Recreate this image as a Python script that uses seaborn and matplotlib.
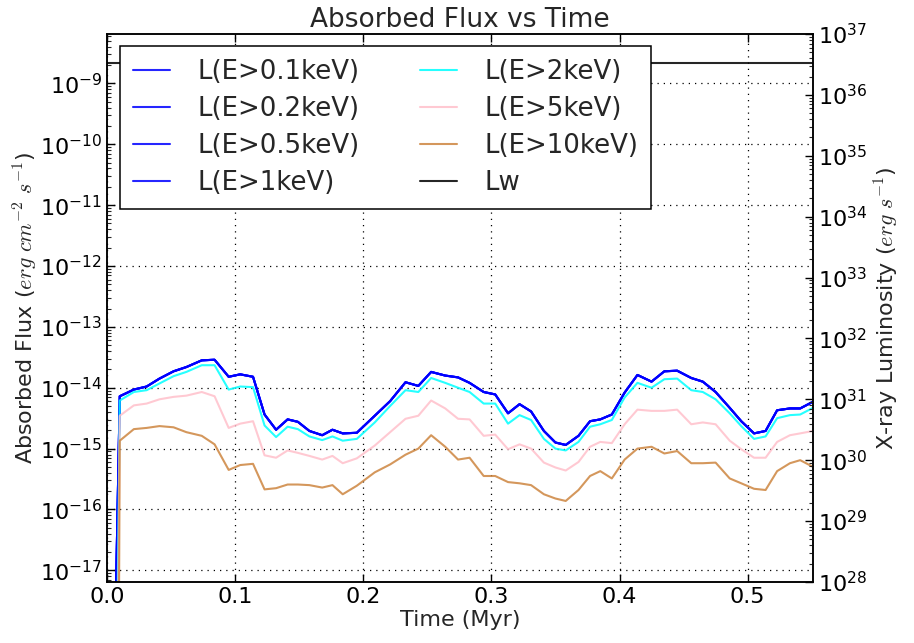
import numpy as np
import pandas as pd
import matplotlib
matplotlib.use("Agg")
import matplotlib.pyplot as plt
from matplotlib.ticker import LogLocator, NullFormatter
import seaborn as sns

# ---- data (flux values as log10) ----
time_myr = [0.0, 0.010, 0.021, 0.031, 0.041, 0.052, 0.062, 0.074, 0.084, 0.095,
            0.104, 0.114, 0.123, 0.132, 0.141, 0.149, 0.158, 0.168, 0.176, 0.184,
            0.195, 0.209, 0.221, 0.233, 0.243, 0.253, 0.264, 0.274, 0.283, 0.294,
            0.303, 0.313, 0.322, 0.331, 0.341, 0.350, 0.358, 0.368, 0.377, 0.385,
            0.394, 0.404, 0.414, 0.425, 0.435, 0.445, 0.456, 0.465, 0.475, 0.486,
            0.495, 0.505, 0.514, 0.523, 0.533, 0.541, 0.551]

log_soft = [-25.0, -14.14, -14.03, -13.98, -13.85, -13.73, -13.66, -13.55, -13.54, -13.82,
            -13.78, -13.82, -14.44, -14.69, -14.52, -14.56, -14.71, -14.78, -14.69, -14.75,
            -14.74, -14.46, -14.22, -13.91, -13.97, -13.74, -13.80, -13.83, -13.92, -14.07,
            -14.11, -14.42, -14.27, -14.39, -14.71, -14.90, -14.94, -14.79, -14.55, -14.52,
            -14.44, -14.08, -13.79, -13.90, -13.73, -13.72, -13.84, -13.90, -14.07, -14.33,
            -14.55, -14.75, -14.71, -14.37, -14.34, -14.34, -14.23]

log_2kev = [-34.0, -14.21, -14.07, -14.04, -13.93, -13.81, -13.74, -13.63, -13.63, -14.03,
            -13.98, -13.99, -14.62, -14.81, -14.64, -14.68, -14.80, -14.86, -14.80, -14.87,
            -14.84, -14.57, -14.30, -14.04, -14.07, -13.84, -13.92, -14.00, -14.07, -14.26,
            -14.26, -14.59, -14.45, -14.53, -14.84, -15.00, -15.03, -14.89, -14.64, -14.60,
            -14.53, -14.16, -13.92, -14.00, -13.86, -13.85, -14.04, -14.07, -14.19, -14.42,
            -14.63, -14.84, -14.80, -14.50, -14.45, -14.44, -14.33]

log_5kev = [-40.0, -14.46, -14.29, -14.26, -14.19, -14.15, -14.13, -14.07, -14.14, -14.66,
            -14.59, -14.55, -15.11, -15.15, -15.03, -15.07, -15.12, -15.18, -15.12, -15.24,
            -15.16, -14.95, -14.73, -14.51, -14.46, -14.21, -14.34, -14.51, -14.52, -14.79,
            -14.77, -15.01, -14.93, -15.00, -15.23, -15.31, -15.36, -15.22, -14.97, -14.89,
            -14.91, -14.60, -14.36, -14.38, -14.38, -14.36, -14.60, -14.57, -14.60, -14.87,
            -15.01, -15.15, -15.15, -14.89, -14.78, -14.75, -14.71]

log_10kev = [-60.0, -14.87, -14.68, -14.66, -14.63, -14.65, -14.73, -14.79, -14.93, -15.35,
             -15.27, -15.25, -15.67, -15.65, -15.59, -15.59, -15.60, -15.64, -15.60, -15.75,
             -15.61, -15.39, -15.26, -15.10, -15.00, -14.78, -14.97, -15.18, -15.15, -15.45,
             -15.45, -15.55, -15.57, -15.60, -15.75, -15.82, -15.86, -15.68, -15.45, -15.37,
             -15.49, -15.18, -15.00, -14.97, -15.08, -15.04, -15.24, -15.24, -15.23, -15.49,
             -15.57, -15.66, -15.68, -15.37, -15.24, -15.19, -15.30]

lw_flux = 2.2e-9  # constant wind luminosity level (in flux units)

labels = ["L(E>0.1keV)", "L(E>0.2keV)", "L(E>0.5keV)", "L(E>1keV)",
          "L(E>2keV)", "L(E>5keV)", "L(E>10keV)", "Lw"]
colors = ["blue", "blue", "blue", "blue", "cyan", "pink", "peru", "black"]
series_logs = [log_soft, log_soft, log_soft, log_soft, log_2kev, log_5kev, log_10kev, None]

lum_factor_log = 45.19  # log10(4 pi d^2) linking the two axes
right_lim = (1e28, 1e37)

# ---- style ----
sns.set_theme(style="white")
plt.rcParams["font.family"] = ["DejaVu Sans"]
plt.rcParams["mathtext.fontset"] = "cm"
plt.rcParams["axes.edgecolor"] = "black"
plt.rcParams["axes.linewidth"] = 1.1

fig = plt.figure(figsize=(9.14, 6.43), dpi=100)
ax = fig.add_axes([0.117, 0.095, 0.7725, 0.852])

t = np.array(time_myr)
for lab, col, logs in zip(labels, colors, series_logs):
    if logs is None:
        y = np.full(len(t), lw_flux)
    else:
        y = 10.0 ** np.array(logs)
    df = pd.DataFrame({"t": t, "f": y})
    sns.lineplot(data=df, x="t", y="f", ax=ax, color=col, alpha=0.85,
                 linewidth=1.5, label=lab, estimator=None, sort=False)

ax.set_yscale("log")
ax.set_xlim(0.0, 0.551)
ax.set_ylim(right_lim[0] / 10 ** lum_factor_log, right_lim[1] / 10 ** lum_factor_log)
ax.set_xticks([0.0, 0.1, 0.2, 0.3, 0.4, 0.5])
ax.set_xticklabels(["0.0", "0.1", "0.2", "0.3", "0.4", "0.5"])
ax.yaxis.set_major_locator(LogLocator(base=10, numticks=30))
ax.yaxis.set_minor_locator(LogLocator(base=10, subs=np.arange(2, 10), numticks=30))
ax.yaxis.set_minor_formatter(NullFormatter())

ax.grid(True, which="major", color="black", linestyle=(0, (1, 4)), linewidth=0.9)
ax.tick_params(axis="both", which="major", direction="in", length=6, width=1,
               labelsize=16, top=True, bottom=True, left=True, right=False, colors="black")
ax.tick_params(axis="y", which="minor", direction="in", length=3, width=0.8,
               left=True, right=False)
ax.tick_params(axis="x", which="minor", bottom=False, top=False)
for s in ax.spines.values():
    s.set_color("black")

ax.set_title("Absorbed Flux vs Time", fontsize=19, pad=5)
ax.set_xlabel("Time (Myr)", fontsize=16, labelpad=2)
ax.set_ylabel(r"Absorbed Flux ($erg\ cm^{-2}\ s^{-1}$)", fontsize=16, labelpad=0)

ax2 = ax.twinx()
ax2.set_yscale("log")
ax2.set_ylim(*right_lim)
ax2.yaxis.set_major_locator(LogLocator(base=10, numticks=30))
ax2.yaxis.set_minor_locator(LogLocator(base=10, subs=np.arange(2, 10), numticks=30))
ax2.yaxis.set_minor_formatter(NullFormatter())
ax2.tick_params(axis="y", which="major", direction="in", length=6, width=1,
                labelsize=16, right=True, left=False, colors="black")
ax2.tick_params(axis="y", which="minor", direction="in", length=3, width=0.8,
                right=True, left=False)
ax2.set_ylabel(r"X-ray Luminosity ($erg\ s^{-1}$)", fontsize=16, labelpad=4)
ax2.grid(False)

leg = ax.legend(loc="upper left", bbox_to_anchor=(0.018, 0.978), ncol=2,
                fontsize=18.7, frameon=True, fancybox=False, handlelength=1.45,
                handletextpad=1.05, columnspacing=2.3, labelspacing=0.42,
                borderpad=0.5, borderaxespad=0.0)
leg.get_frame().set_edgecolor("black")
leg.get_frame().set_linewidth(1.1)
leg.get_frame().set_alpha(1.0)

fig.savefig("out.png", dpi=100)
